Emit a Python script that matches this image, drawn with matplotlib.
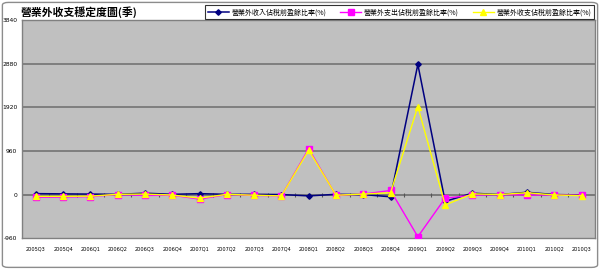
import numpy as np
import matplotlib
matplotlib.use("Agg")
import matplotlib.pyplot as plt
from matplotlib.patches import FancyBboxPatch

plt.rcParams["font.family"] = ["Noto Sans CJK TC", "DejaVu Sans"]

quarters = ["2005Q3", "2005Q4", "2006Q1", "2006Q2", "2006Q3", "2006Q4", "2007Q1",
            "2007Q2", "2007Q3", "2007Q4", "2008Q1", "2008Q2", "2008Q3", "2008Q4",
            "2009Q1", "2009Q2", "2009Q3", "2009Q4", "2010Q1", "2010Q2", "2010Q3"]
income = [20, 15, 10, 5, 30, 5, 20, 5, 5, 0, -30, 5, 0, -50,
          2870, -150, 30, 0, 50, 0, -10]
expense = [-60, -55, -45, 0, -20, -15, -100, 0, -20, -30, 1010, -20, 10, 90,
           -930, -80, -15, 0, -10, -10, -15]
net = [-40, -40, -35, 5, 10, -10, -80, 5, -15, -30, 980, -15, 10, 40,
       1940, -230, 15, 0, 40, -10, -25]
series_names = ["營業外收入佔稅前盈餘比率(%)", "營業外支出佔稅前盈餘比率(%)",
                "營業外收支佔稅前盈餘比率(%)"]
yticks = [-960, 0, 960, 1920, 2880, 3840]

fig = plt.figure(figsize=(6.0, 2.69), dpi=100)
fig.patch.set_facecolor("white")
fig.patches.append(FancyBboxPatch((0.004, 0.006), 0.992, 0.985,
                                  boxstyle="round,pad=0,rounding_size=0.01",
                                  transform=fig.transFigure, fill=False,
                                  ec="#8c8c8c", lw=1.0))

ax = fig.add_axes([0.037, 0.115, 0.955, 0.809])
ax.set_facecolor("#c0c0c0")
x = np.arange(len(quarters))

for v in yticks[1:-1]:
    ax.axhline(v, color="#7a7a7a", lw=1.3, zorder=1)
ax.axhline(0, color="#7a7a7a", lw=1.3, zorder=1)
# small tick marks of the category axis drawn at y=0
ax.plot(x[:-1] + 0.5, np.zeros(len(x) - 1), ls="none", marker="|",
        color="#555555", ms=2.5, mew=0.8, zorder=1.5)

ax.plot(x, income, color="#000080", lw=1.1, marker="D", ms=2.8, zorder=3,
        label=series_names[0])
ax.plot(x, expense, color="#ff00ff", lw=1.0, marker="s", ms=3.8, zorder=4,
        label=series_names[1])
ax.plot(x, net, color="#ffff00", lw=1.0, marker="^", ms=3.8, zorder=5,
        label=series_names[2])

ax.set_xlim(-0.5, len(quarters) - 0.5)
ax.set_ylim(yticks[0], yticks[-1])
ax.set_yticks(yticks)
ax.set_yticklabels([str(v) for v in yticks], fontsize=4.3, family="DejaVu Sans")
ax.set_xticks(x)
ax.set_xticklabels(quarters, fontsize=3.6, family="DejaVu Sans")
ax.tick_params(axis="y", length=0, pad=3.5)
ax.tick_params(axis="x", length=0, pad=6)
for s in ax.spines.values():
    s.set_color("#808080")
    s.set_linewidth(1.0)

fig.text(0.035, 0.955, "營業外收支穩定度圖(季)", fontsize=7.8, fontweight="bold",
         va="center", ha="left")

leg = fig.legend(loc="center", bbox_to_anchor=(0.666, 0.955), ncol=3,
                 fontsize=5.0, frameon=True, fancybox=False, edgecolor="black",
                 handlelength=3.0, handletextpad=0.4, columnspacing=2.0,
                 borderpad=0.4)
leg.get_frame().set_linewidth(0.8)

fig.savefig("out.png", dpi=100, facecolor="white")
